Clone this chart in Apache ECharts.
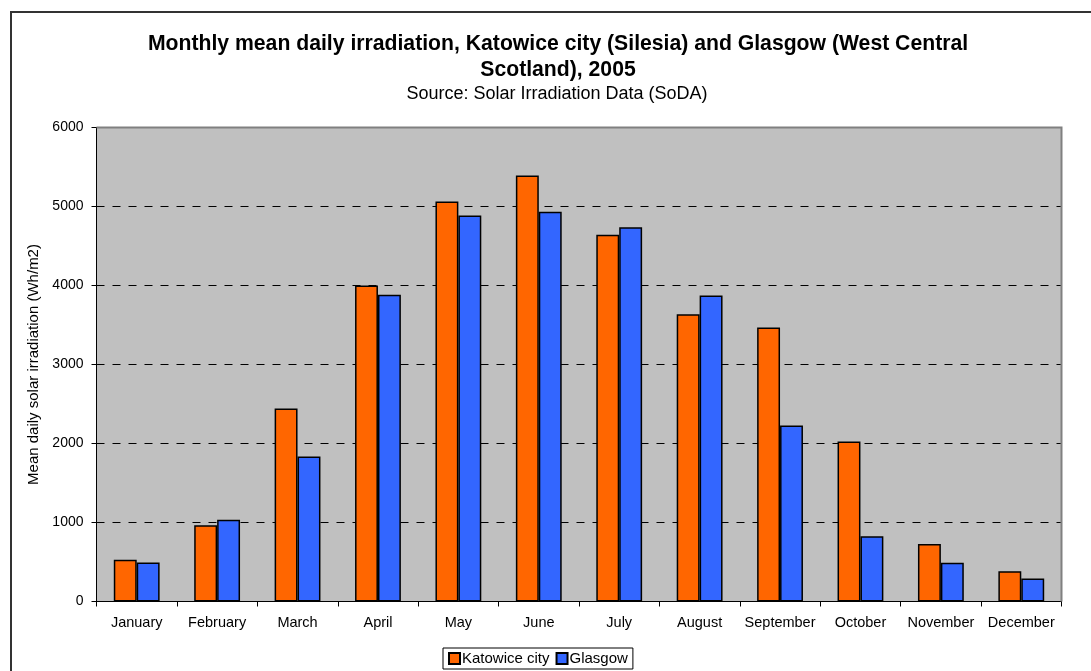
<!DOCTYPE html>
<html>
<head>
<meta charset="utf-8">
<script src="https://cdn.jsdelivr.net/npm/echarts@6/dist/echarts.min.js"></script>
<style>
  html, body { margin: 0; padding: 0; background: #fff; }
  #main { width: 1091px; height: 671px; }
</style>
</head>
<body>
<div id="main"></div>
<script>
// months on the x axis
var months = ["January", "February", "March", "April", "May", "June",
    "July", "August", "September", "October", "November", "December"];
// Wh/m2
var katowice = [530, 965, 2443, 4000, 5063, 5392, 4641, 3637, 3468, 2025, 727, 384];
var glasgow = [494, 1035, 1835, 3882, 4886, 4932, 4738, 3873, 2228, 827, 490, 290];

var FONT = "Liberation Sans, Arial, sans-serif";
var chart = echarts.init(document.getElementById("main"));

var barBorder = { borderColor: "#000", borderWidth: 1.5 };

chart.setOption({
    animation: false,
    backgroundColor: "#fff",
    textStyle: { fontFamily: FONT },
    graphic: [
        {
            type: "rect",
            shape: { x: 11, y: 12, width: 1100, height: 700 },
            style: { fill: null, stroke: "#333", lineWidth: 2 },
            silent: true
        },
        {
            // gray frame of the plot area (top/right), drawn over the top gridline
            type: "polyline",
            shape: { points: [[96.5, 127.5], [1061.5, 127.5], [1061.5, 601.5]] },
            style: { fill: null, stroke: "#808080", lineWidth: 2 },
            z: 5,
            silent: true
        }
    ],
    title: [
        {
            text: "Monthly mean daily irradiation, Katowice city (Silesia) and Glasgow (West Central\nScotland), 2005",
            left: 553,
            top: 26,
            textAlign: "center",
            textStyle: { fontFamily: FONT, fontSize: 21.2, fontWeight: "bold", color: "#000", lineHeight: 26 }
        },
        {
            text: "Source: Solar Irradiation Data (SoDA)",
            left: 552,
            top: 80,
            textAlign: "center",
            textStyle: { fontFamily: FONT, fontSize: 18, fontWeight: "normal", color: "#000" }
        }
    ],
    legend: {
        data: ["Katowice city", "Glasgow"],
        left: 443,
        top: 648,
        padding: [3, 5, 3, 5],
        itemGap: 6,
        itemWidth: 11,
        itemHeight: 11,
        borderColor: "#000",
        borderWidth: 1,
        borderRadius: 0,
        icon: "rect",
        textStyle: { fontFamily: FONT, fontSize: 15, color: "#000", padding: [0, 0, 0, -3] }
    },
    grid: {
        left: 96.5,
        top: 127.5,
        width: 965,
        height: 474,
        show: true,
        backgroundColor: "#C0C0C0",
        borderWidth: 0,
        containLabel: false
    },
    xAxis: {
        type: "category",
        data: months,
        axisLine: { show: true, lineStyle: { color: "#000", width: 1 } },
        axisTick: { show: true, alignWithLabel: false, length: 5, lineStyle: { color: "#000" } },
        axisLabel: { fontFamily: FONT, fontSize: 14.5, color: "#000", margin: 14, interval: 0 },
        splitLine: { show: false }
    },
    yAxis: {
        type: "value",
        min: 0,
        max: 6000,
        interval: 1000,
        name: "Mean daily solar irradiation (Wh/m2)",
        nameLocation: "middle",
        nameGap: 52,
        nameTextStyle: { fontFamily: FONT, fontSize: 15, color: "#000" },
        axisLine: { show: true, lineStyle: { color: "#000", width: 1 } },
        axisTick: { show: true, length: 5, lineStyle: { color: "#000" } },
        axisLabel: {
            fontFamily: FONT, fontSize: 14, color: "#000", margin: 13,
            formatter: function (v) { return String(v); }
        },
        splitLine: { show: true, lineStyle: { color: "#000", type: [8, 8], width: 1 } }
    },
    series: [
        {
            name: "Katowice city",
            type: "bar",
            data: katowice,
            barGap: "0%",
            barCategoryGap: "43%",
            itemStyle: Object.assign({ color: "#FF6600" }, barBorder)
        },
        {
            name: "Glasgow",
            type: "bar",
            data: glasgow,
            itemStyle: Object.assign({ color: "#3366FF" }, barBorder)
        }
    ]
});
</script>
</body>
</html>
